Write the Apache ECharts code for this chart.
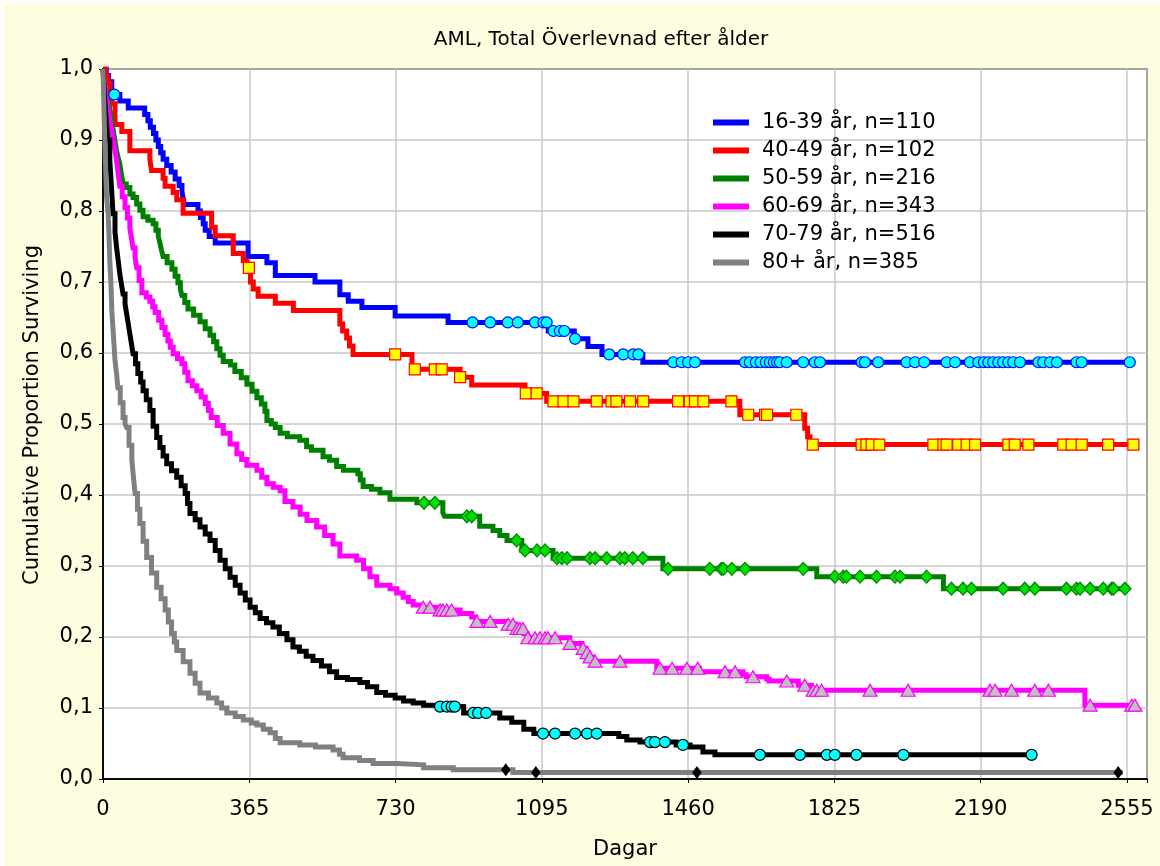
<!DOCTYPE html>
<html>
<head>
<meta charset="utf-8">
<script src="https://cdn.jsdelivr.net/npm/echarts@6/dist/echarts.min.js"></script>
<style>
  html, body { margin: 0; padding: 0; background: #ffffff; }
  #chart { position: absolute; left: 4px; top: 4px; width: 1156px; height: 862px; }
</style>
</head>
<body>
<div id="chart"></div>
<script>
// Kaplan-Meier survival by age group: event days and survival after each event
const groupNames = ['16-39 år, n=110', '40-49 år, n=102', '50-59 år, n=216', '60-69 år, n=343', '70-79 år, n=516', '80+ år, n=385'];

const xTicks = [0, 365, 730, 1095, 1460, 1825, 2190, 2555];
const yTicks = [0.0, 0.1, 0.2, 0.3, 0.4, 0.5, 0.6, 0.7, 0.8, 0.9, 1.0];

// 16-39
const g1Days = [0, 8, 14, 22, 42, 63, 104, 112, 118, 126, 132, 138, 144, 150, 159, 170, 180, 190, 197, 200, 203, 237, 243, 250, 255, 265, 280, 362, 409, 430, 529, 591, 612, 646, 729, 861, 1111, 1176, 1210, 1245, 1347];
const g1Surv = [1.0, 0.991, 0.982, 0.964, 0.955, 0.945, 0.936, 0.927, 0.918, 0.909, 0.900, 0.891, 0.882, 0.873, 0.864, 0.855, 0.845, 0.836, 0.827, 0.818, 0.809, 0.800, 0.791, 0.782, 0.773, 0.764, 0.755, 0.736, 0.727, 0.709, 0.700, 0.682, 0.673, 0.664, 0.652, 0.643, 0.631, 0.620, 0.609, 0.598, 0.587];
const g1Censored = [28, 922, 966, 1010, 1035, 1078, 1099, 1107, 1124, 1140, 1151, 1178, 1263, 1298, 1323, 1336, 1423, 1444, 1460, 1477, 1602, 1614, 1629, 1641, 1654, 1664, 1674, 1682, 1689, 1706, 1747, 1776, 1789, 1893, 1901, 1934, 2005, 2026, 2049, 2105, 2126, 2163, 2184, 2198, 2209, 2221, 2234, 2246, 2259, 2271, 2288, 2334, 2346, 2363, 2380, 2429, 2442, 2562];
const g1End = 2562;

// 40-49
const g2Days = [0, 6, 12, 18, 22, 30, 47, 67, 117, 121, 150, 155, 175, 184, 200, 271, 280, 325, 350, 359, 368, 375, 387, 430, 475, 591, 598, 608, 615, 624, 771, 891, 920, 1053, 1107, 1589, 1751, 1758, 1764];
const g2Surv = [1.0, 0.990, 0.980, 0.971, 0.951, 0.922, 0.912, 0.885, 0.873, 0.857, 0.846, 0.835, 0.826, 0.816, 0.797, 0.777, 0.765, 0.740, 0.730, 0.720, 0.700, 0.690, 0.680, 0.670, 0.660, 0.641, 0.631, 0.621, 0.610, 0.598, 0.577, 0.566, 0.555, 0.543, 0.532, 0.513, 0.494, 0.482, 0.471];
const g2Censored = [364, 729, 778, 828, 845, 891, 1055, 1082, 1124, 1149, 1174, 1232, 1269, 1281, 1315, 1348, 1435, 1464, 1477, 1498, 1568, 1610, 1652, 1657, 1730, 1771, 1893, 1905, 1918, 1937, 2072, 2097, 2105, 2134, 2155, 2176, 2259, 2275, 2309, 2396, 2417, 2442, 2508, 2571];
const g2End = 2575;

// 50-59
const g3Days = [0, 3, 6, 10, 14, 18, 22, 26, 30, 34, 38, 42, 46, 50, 58, 67, 75, 84, 92, 100, 112, 125, 132, 138, 142, 146, 150, 160, 172, 180, 187, 193, 197, 204, 212, 226, 242, 255, 267, 276, 284, 292, 300, 318, 329, 345, 359, 372, 384, 395, 404, 409, 420, 430, 442, 460, 491, 508, 520, 549, 565, 583, 600, 636, 642, 649, 670, 691, 716, 783, 848, 852, 940, 973, 990, 1008, 1045, 1123, 1397, 1781, 2097];
const g3Surv = [1.0, 0.986, 0.972, 0.963, 0.954, 0.940, 0.926, 0.912, 0.898, 0.884, 0.875, 0.866, 0.852, 0.838, 0.833, 0.824, 0.819, 0.810, 0.801, 0.792, 0.787, 0.782, 0.773, 0.764, 0.755, 0.745, 0.736, 0.727, 0.718, 0.708, 0.699, 0.690, 0.681, 0.671, 0.662, 0.653, 0.644, 0.634, 0.625, 0.616, 0.606, 0.597, 0.588, 0.583, 0.574, 0.565, 0.556, 0.546, 0.537, 0.528, 0.518, 0.505, 0.500, 0.495, 0.487, 0.482, 0.477, 0.468, 0.463, 0.454, 0.449, 0.440, 0.435, 0.430, 0.421, 0.412, 0.408, 0.403, 0.394, 0.389, 0.375, 0.370, 0.356, 0.350, 0.343, 0.336, 0.322, 0.311, 0.296, 0.285, 0.268];
const g3Censored = [801, 828, 908, 920, 1032, 1053, 1083, 1103, 1133, 1145, 1158, 1215, 1228, 1257, 1290, 1302, 1322, 1347, 1410, 1514, 1543, 1548, 1569, 1602, 1747, 1826, 1847, 1855, 1889, 1930, 1976, 1989, 2055, 2117, 2146, 2167, 2246, 2300, 2325, 2404, 2429, 2438, 2463, 2496, 2517, 2521, 2550];
const g3End = 2550;

// 60-69
const g4Days = [0, 3, 6, 10, 14, 18, 22, 26, 30, 34, 38, 42, 48, 55, 61, 67, 71, 75, 80, 84, 90, 97, 108, 117, 124, 130, 139, 147, 155, 162, 168, 175, 186, 197, 204, 212, 223, 234, 245, 255, 263, 270, 285, 300, 317, 334, 346, 359, 384, 396, 409, 425, 442, 454, 474, 492, 509, 533, 553, 574, 591, 633, 650, 666, 683, 716, 733, 749, 762, 774, 795, 841, 891, 920, 930, 1010, 1030, 1050, 1058, 1165, 1195, 1205, 1212, 1222, 1382, 1488, 1597, 1605, 1656, 1662, 1735, 1768, 2450];
const g4Surv = [1.0, 0.985, 0.970, 0.955, 0.940, 0.925, 0.912, 0.898, 0.885, 0.871, 0.852, 0.835, 0.820, 0.805, 0.790, 0.776, 0.762, 0.748, 0.734, 0.720, 0.702, 0.685, 0.679, 0.673, 0.665, 0.657, 0.646, 0.636, 0.626, 0.617, 0.608, 0.599, 0.592, 0.585, 0.573, 0.561, 0.554, 0.547, 0.538, 0.529, 0.519, 0.509, 0.498, 0.487, 0.472, 0.458, 0.450, 0.442, 0.435, 0.425, 0.416, 0.411, 0.406, 0.391, 0.383, 0.373, 0.364, 0.355, 0.343, 0.331, 0.314, 0.308, 0.296, 0.285, 0.273, 0.268, 0.262, 0.256, 0.250, 0.245, 0.242, 0.238, 0.233, 0.228, 0.222, 0.218, 0.212, 0.205, 0.199, 0.191, 0.184, 0.178, 0.172, 0.166, 0.156, 0.151, 0.147, 0.144, 0.141, 0.138, 0.132, 0.125, 0.104];
const g4Censored = [799, 816, 841, 848, 858, 870, 933, 966, 1011, 1023, 1033, 1040, 1048, 1060, 1078, 1090, 1103, 1110, 1128, 1165, 1198, 1208, 1215, 1228, 1290, 1390, 1420, 1457, 1484, 1552, 1577, 1622, 1706, 1751, 1772, 1781, 1793, 1914, 2009, 2213, 2226, 2267, 2325, 2359, 2463, 2567, 2575];
const g4End = 2580;

// 70-79
const g5Days = [0, 4, 8, 12, 17, 21, 25, 30, 34, 38, 42, 46, 50, 55, 59, 63, 67, 71, 75, 81, 87, 94, 100, 108, 117, 125, 134, 142, 150, 159, 171, 184, 195, 205, 211, 217, 230, 242, 255, 267, 280, 292, 305, 317, 330, 342, 355, 367, 380, 392, 408, 424, 440, 459, 474, 490, 507, 524, 545, 565, 583, 610, 641, 660, 683, 705, 729, 750, 774, 800, 830, 900, 990, 1020, 1050, 1075, 1287, 1307, 1340, 1430, 1465, 1497, 1527];
const g5Surv = [1.0, 0.960, 0.930, 0.900, 0.871, 0.835, 0.796, 0.770, 0.748, 0.730, 0.711, 0.697, 0.683, 0.669, 0.655, 0.641, 0.627, 0.613, 0.599, 0.585, 0.571, 0.559, 0.547, 0.534, 0.519, 0.497, 0.481, 0.467, 0.455, 0.444, 0.434, 0.425, 0.413, 0.402, 0.388, 0.374, 0.365, 0.355, 0.345, 0.336, 0.322, 0.308, 0.296, 0.284, 0.273, 0.262, 0.252, 0.242, 0.234, 0.226, 0.220, 0.214, 0.205, 0.196, 0.186, 0.180, 0.173, 0.167, 0.159, 0.151, 0.143, 0.140, 0.136, 0.130, 0.122, 0.118, 0.114, 0.110, 0.107, 0.104, 0.102, 0.093, 0.086, 0.080, 0.070, 0.064, 0.060, 0.055, 0.052, 0.048, 0.045, 0.038, 0.034];
const g5Censored = [841, 858, 870, 878, 924, 936, 956, 1098, 1128, 1178, 1208, 1232, 1365, 1377, 1402, 1447, 1639, 1739, 1806, 1826, 1880, 1997, 2317];
const g5End = 2317;

// 80+
const g6Days = [0, 3, 6, 9, 13, 15, 17, 20, 22, 26, 30, 34, 37, 43, 50, 55, 59, 65, 72, 76, 80, 86, 92, 100, 109, 121, 134, 145, 155, 163, 171, 178, 184, 200, 217, 230, 242, 263, 284, 296, 309, 330, 350, 370, 384, 400, 417, 430, 442, 491, 530, 574, 590, 599, 640, 674, 733, 800, 874, 1023];
const g6Surv = [1.0, 0.930, 0.870, 0.820, 0.795, 0.765, 0.730, 0.695, 0.660, 0.625, 0.589, 0.570, 0.551, 0.530, 0.509, 0.500, 0.495, 0.470, 0.449, 0.425, 0.402, 0.380, 0.360, 0.335, 0.312, 0.290, 0.270, 0.254, 0.238, 0.221, 0.205, 0.193, 0.181, 0.165, 0.149, 0.135, 0.121, 0.114, 0.107, 0.100, 0.093, 0.088, 0.083, 0.079, 0.076, 0.070, 0.065, 0.057, 0.051, 0.048, 0.045, 0.041, 0.035, 0.030, 0.026, 0.022, 0.020, 0.016, 0.013, 0.009];
const g6Censored = [1005, 1080, 1482, 2533];
const g6End = 2545;

const groups = [
  { days: g1Days, surv: g1Surv, cens: g1Censored, end: g1End, color: '#0000FF',
    sym: 'circle', symSize: 11, fill: '#00FFFF', border: '#0000FF' },
  { days: g2Days, surv: g2Surv, cens: g2Censored, end: g2End, color: '#FF0000',
    sym: 'rect', symSize: 11, fill: '#FFFF00', border: '#FF0000' },
  { days: g3Days, surv: g3Surv, cens: g3Censored, end: g3End, color: '#008000',
    sym: 'diamond', symSize: [12, 13], fill: '#00DD00', border: '#008000' },
  { days: g4Days, surv: g4Surv, cens: g4Censored, end: g4End, color: '#FF00FF',
    sym: 'triangle', symSize: [14, 12], fill: '#C0C0C0', border: '#FF00FF' },
  { days: g5Days, surv: g5Surv, cens: g5Censored, end: g5End, color: '#000000',
    sym: 'circle', symSize: 11, fill: '#00FFFF', border: '#000000' },
  { days: g6Days, surv: g6Surv, cens: g6Censored, end: g6End, color: '#808080',
    sym: 'diamond', symSize: [8, 11], fill: '#000000', border: '#000000' }
];

// survival value of a step curve at a given day
function survivalAt(days, surv, t) {
  let s = surv[0];
  for (let i = 0; i < days.length; i++) {
    if (days[i] <= t) s = surv[i];
  }
  return s;
}

const FONT = 'DejaVu Sans';
const series = [];
groups.forEach(function (g, k) {
  const lineData = g.days.map(function (d, i) { return [d, g.surv[i]]; });
  lineData.push([g.end, g.surv[g.surv.length - 1]]);
  series.push({
    name: groupNames[k],
    type: 'line',
    step: 'end',
    data: lineData,
    showSymbol: false,
    symbol: 'none',
    color: g.color,
    lineStyle: { color: g.color, width: 5, cap: 'butt', join: 'miter' },
    emphasis: { disabled: true },
    animation: false,
    z: 3
  });
  series.push({
    name: 'censored ' + groupNames[k],
    type: 'scatter',
    data: g.cens.map(function (t) { return [t, survivalAt(g.days, g.surv, t)]; }),
    symbol: g.sym,
    symbolSize: g.symSize,
    itemStyle: { color: g.fill, borderColor: g.border, borderWidth: 1.2, opacity: 1 },
    emphasis: { disabled: true },
    animation: false,
    z: 4
  });
});

const chart = echarts.init(document.getElementById('chart'), null, { renderer: 'canvas' });

chart.setOption({
  backgroundColor: '#FFFDE0',
  animation: false,
  grid: {
    left: 99, top: 65, right: 13, bottom: 87,
    show: true, backgroundColor: '#FFFFFF', borderColor: '#000000', borderWidth: 1.5
  },
  legend: {
    orient: 'vertical',
    left: 704, top: 103,
    itemWidth: 36, itemHeight: 6, itemGap: 7,
    icon: 'rect',
    selectedMode: false,
    data: groupNames,
    textStyle: { fontFamily: FONT, fontSize: 21, color: '#000000', lineHeight: 21, padding: [0, 0, 0, 8] }
  },
  xAxis: [{
    type: 'value', min: 0, max: 2605, interval: 365,
    axisLine: { show: true, lineStyle: { color: '#000000', width: 1.5 } },
    axisTick: { show: true, inside: false, length: 4, lineStyle: { color: '#000000' } },
    axisLabel: {
      margin: 20, fontFamily: FONT, fontSize: 21, color: '#000000',
      formatter: function (v) { return xTicks.indexOf(v) >= 0 ? String(v) : ''; }
    },
    splitLine: { show: true, lineStyle: { color: '#C8C8C8', width: 1.5 } }
  }, {
    type: 'value', min: 0, max: 2605, interval: 365, position: 'top',
    axisLine: { show: true, lineStyle: { color: '#000000', width: 1.5 } },
    axisTick: { show: true, inside: true, length: 4, lineStyle: { color: '#000000' } },
    axisLabel: { show: false },
    splitLine: { show: false }
  }],
  yAxis: [{
    type: 'value', min: 0, max: 1, interval: 0.1,
    axisLine: { show: true, lineStyle: { color: '#000000', width: 1.5 } },
    axisTick: { show: true, inside: false, length: 4, lineStyle: { color: '#000000' } },
    axisLabel: {
      margin: 10, fontFamily: FONT, fontSize: 21, color: '#000000',
      formatter: function (v) {
        const r = Math.round(v * 10) / 10;
        return yTicks.indexOf(r) >= 0 ? r.toFixed(1).replace('.', ',') : '';
      }
    },
    splitLine: { show: true, lineStyle: { color: '#C8C8C8', width: 1.5 } }
  }, {
    type: 'value', min: 0, max: 1, interval: 0.1, position: 'right',
    axisLine: { show: true, lineStyle: { color: '#000000', width: 1.5 } },
    axisTick: { show: true, inside: true, length: 4, lineStyle: { color: '#000000' } },
    axisLabel: { show: false },
    splitLine: { show: false }
  }],
  graphic: [
    { type: 'text', x: 597, y: 36, silent: true,
      style: { text: 'AML, Total Överlevnad efter ålder', font: '20px "DejaVu Sans"', fill: '#000000', align: 'center', verticalAlign: 'middle' } },
    { type: 'text', x: 29, y: 411, rotation: Math.PI / 2, silent: true,
      style: { text: 'Cumulative Proportion Surviving', font: '21px "DejaVu Sans"', fill: '#000000', align: 'center', verticalAlign: 'middle' } },
    { type: 'text', x: 621, y: 846, silent: true,
      style: { text: 'Dagar', font: '21px "DejaVu Sans"', fill: '#000000', align: 'center', verticalAlign: 'middle' } }
  ],
  series: series
});
</script>
</body>
</html>
